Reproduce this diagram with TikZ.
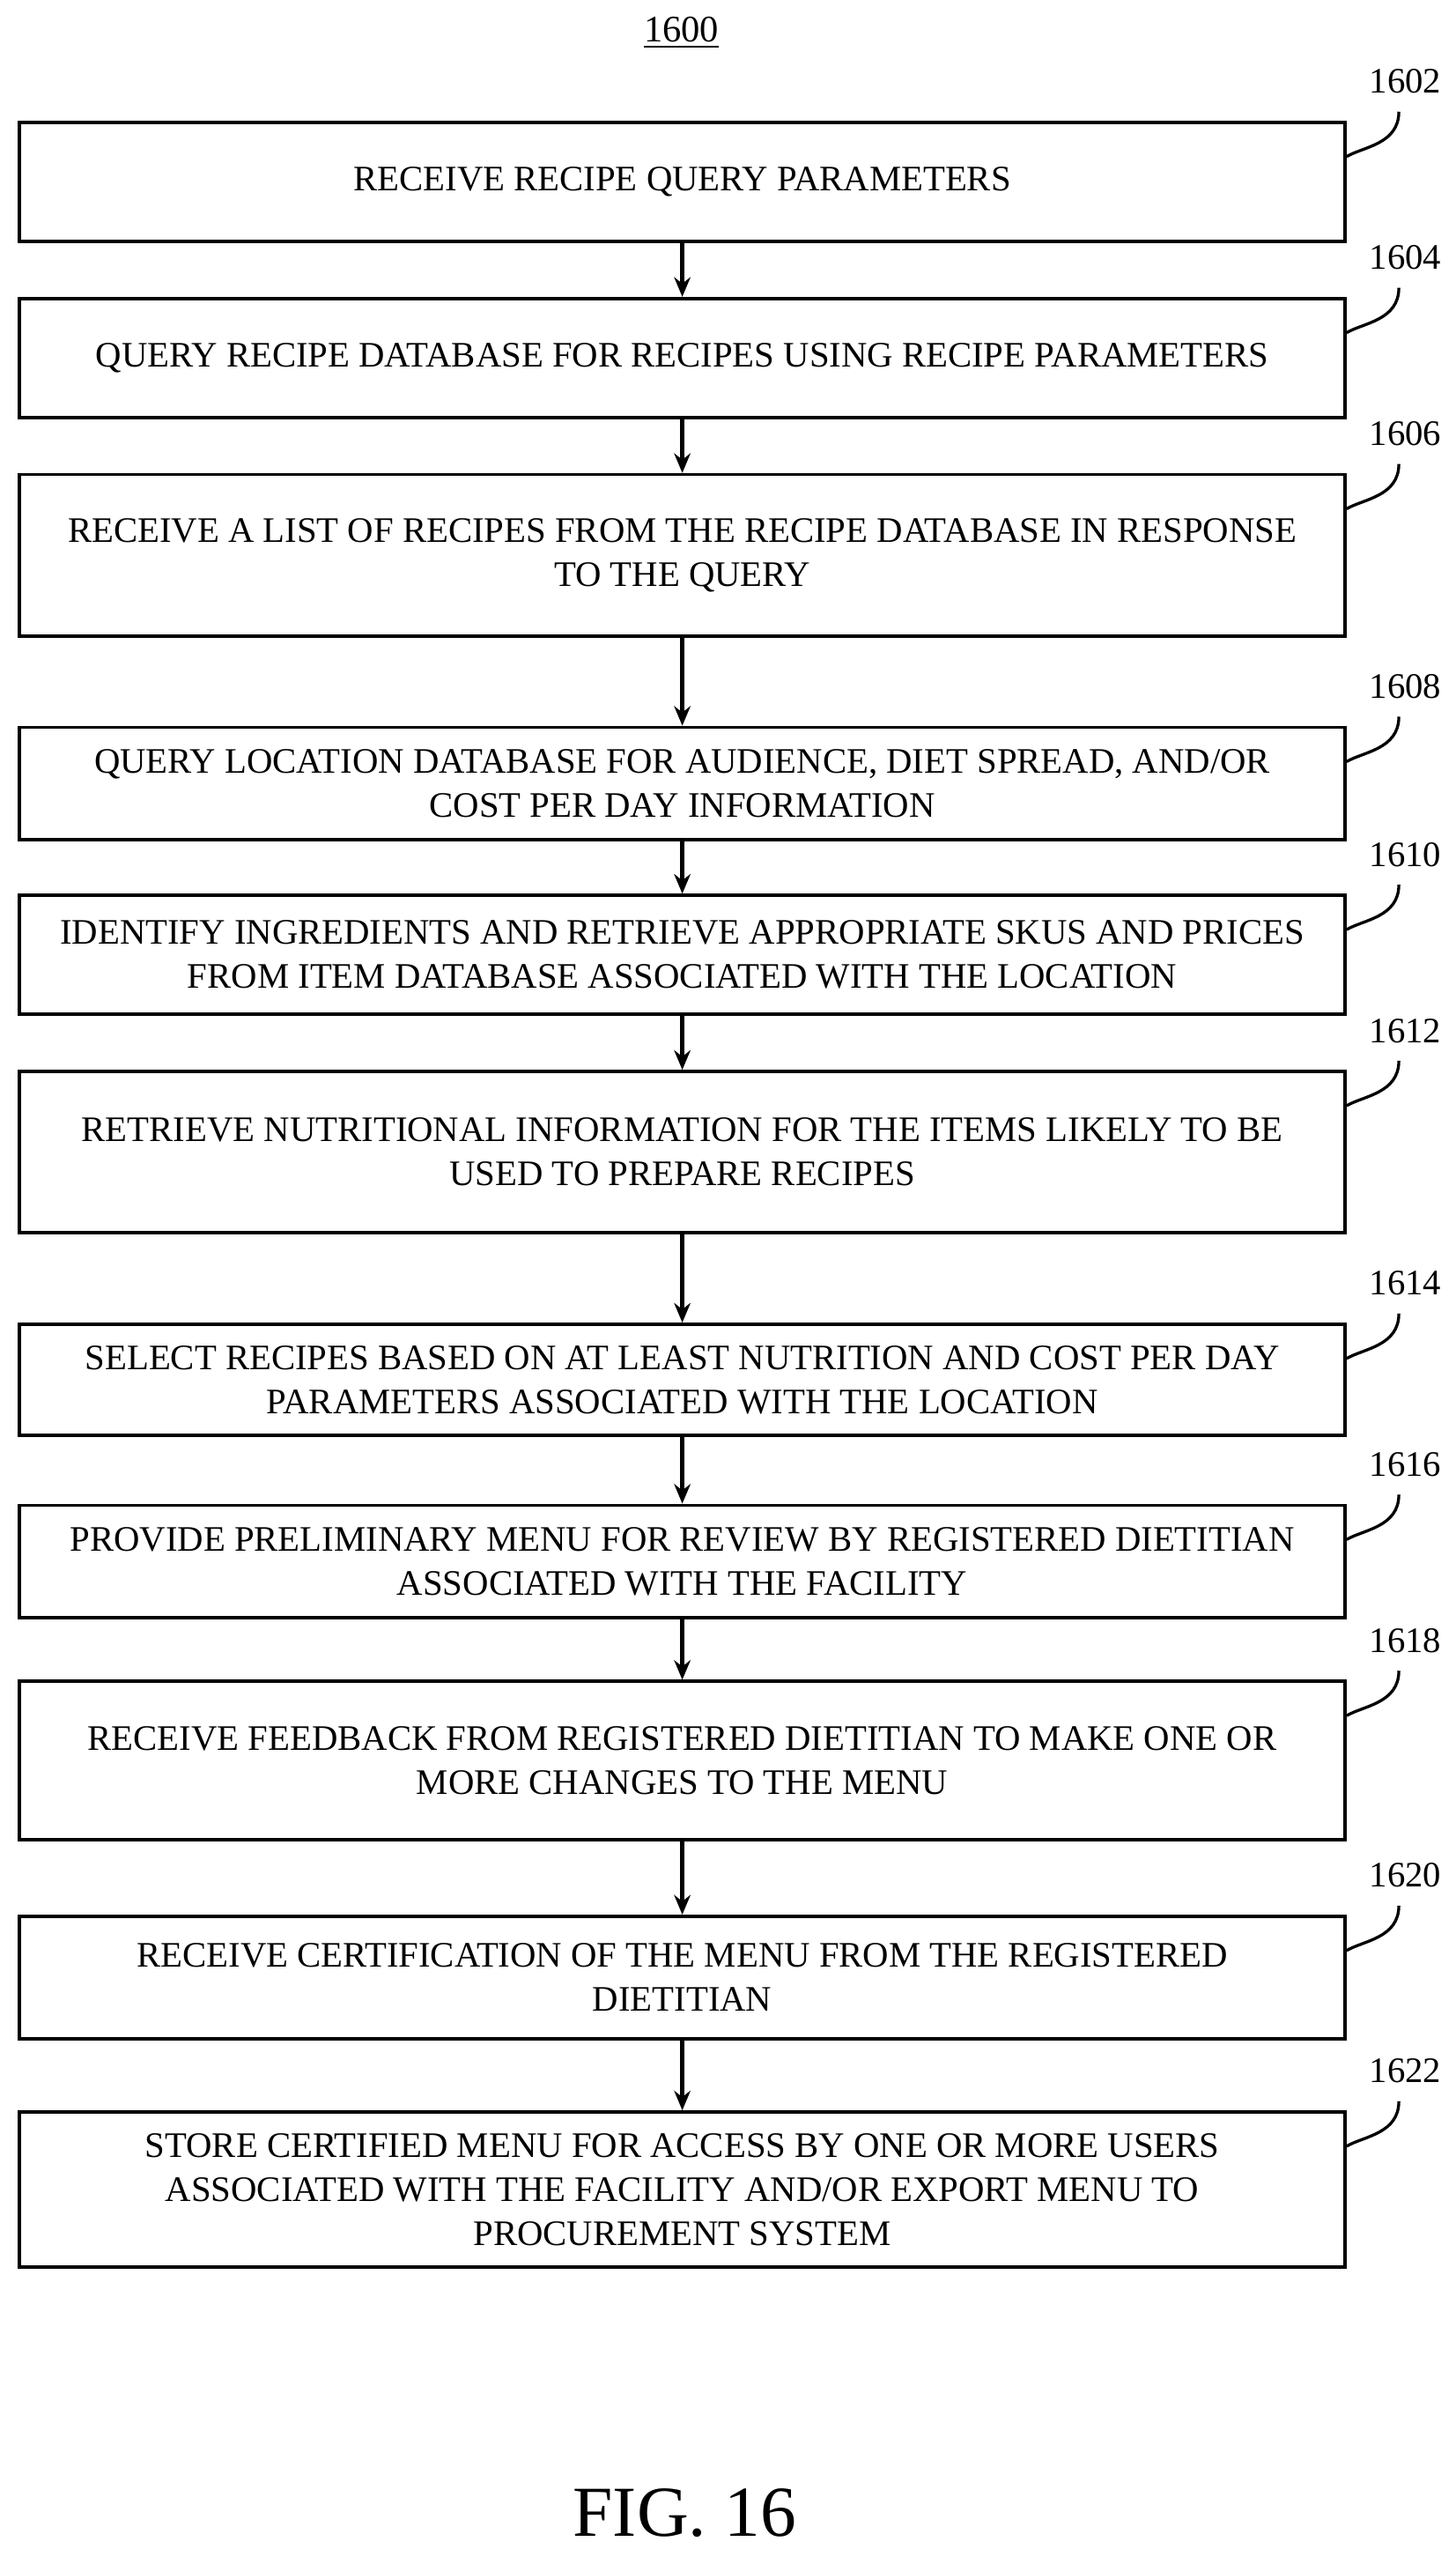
\documentclass[tikz,border=0pt]{standalone}
\usepackage{fontspec}
\setmainfont{Liberation Serif}
\usetikzlibrary{arrows.meta,calc}
\begin{document}
\begin{tikzpicture}[x=0.5pt,y=-0.5pt,
  box/.style={draw,line width=1pt,inner sep=0pt,align=center,font=\fontsize{11}{13.5}\selectfont},
  arr/.style={line width=1.2pt,-{Stealth[length=6pt,width=5pt]}},
  lab/.style={font=\fontsize{11}{13}\selectfont},
  hook/.style={line width=0.9pt}]
\useasboundingbox (0,0) rectangle (893,1563);
\node[font=\fontsize{11.5}{13}\selectfont] (t) at (418,20) {\underline{1600}};
\node[font=\fontsize{22}{26}\selectfont] (fig) at (420,1541) {FIG. 16};
\def\B#1#2#3#4{\node[box,minimum width=406.5pt,minimum height=#3*0.5pt] (b#1) at (418.5,#2) {#4};
  \node[lab] (l#1) at (862,#2-#3/2-25) {#1};
  \draw[hook] ($(l#1.south)+(-4,4)$) .. controls +(0,20) and +(10,-6) .. ($(b#1.north east)+(0,22)$);}
\B{1602}{111.5}{73}{RECEIVE RECIPE QUERY PARAMETERS}
\B{1604}{219.5}{73}{QUERY RECIPE DATABASE FOR RECIPES USING RECIPE PARAMETERS}
\B{1606}{340.5}{99}{RECEIVE A LIST OF RECIPES FROM THE RECIPE DATABASE IN RESPONSE\\TO THE QUERY}
\B{1608}{480.5}{69}{QUERY LOCATION DATABASE FOR AUDIENCE, DIET SPREAD, AND/OR\\COST PER DAY INFORMATION}
\B{1610}{585.5}{73}{IDENTIFY INGREDIENTS AND RETRIEVE APPROPRIATE SKUS AND PRICES\\FROM ITEM DATABASE ASSOCIATED WITH THE LOCATION}
\B{1612}{706.5}{99}{RETRIEVE NUTRITIONAL INFORMATION FOR THE ITEMS LIKELY TO BE\\USED TO PREPARE RECIPES}
\B{1614}{846}{68}{SELECT RECIPES BASED ON AT LEAST NUTRITION AND COST PER DAY\\PARAMETERS ASSOCIATED WITH THE LOCATION}
\B{1616}{957.5}{69}{PROVIDE PRELIMINARY MENU FOR REVIEW BY REGISTERED DIETITIAN\\ASSOCIATED WITH THE FACILITY}
\B{1618}{1079.5}{97}{RECEIVE FEEDBACK FROM REGISTERED DIETITIAN TO MAKE ONE OR\\MORE CHANGES TO THE MENU}
\B{1620}{1212.5}{75}{RECEIVE CERTIFICATION OF THE MENU FROM THE REGISTERED\\DIETITIAN}
\B{1622}{1342.5}{95}{STORE CERTIFIED MENU FOR ACCESS BY ONE OR MORE USERS\\ASSOCIATED WITH THE FACILITY AND/OR EXPORT MENU TO\\PROCUREMENT SYSTEM}
\foreach \a/\b in {1602/1604,1604/1606,1606/1608,1608/1610,1610/1612,1612/1614,1614/1616,1616/1618,1618/1620,1620/1622}
  \draw[arr] (b\a.south) -- (b\b.north);
\end{tikzpicture}
\end{document}
